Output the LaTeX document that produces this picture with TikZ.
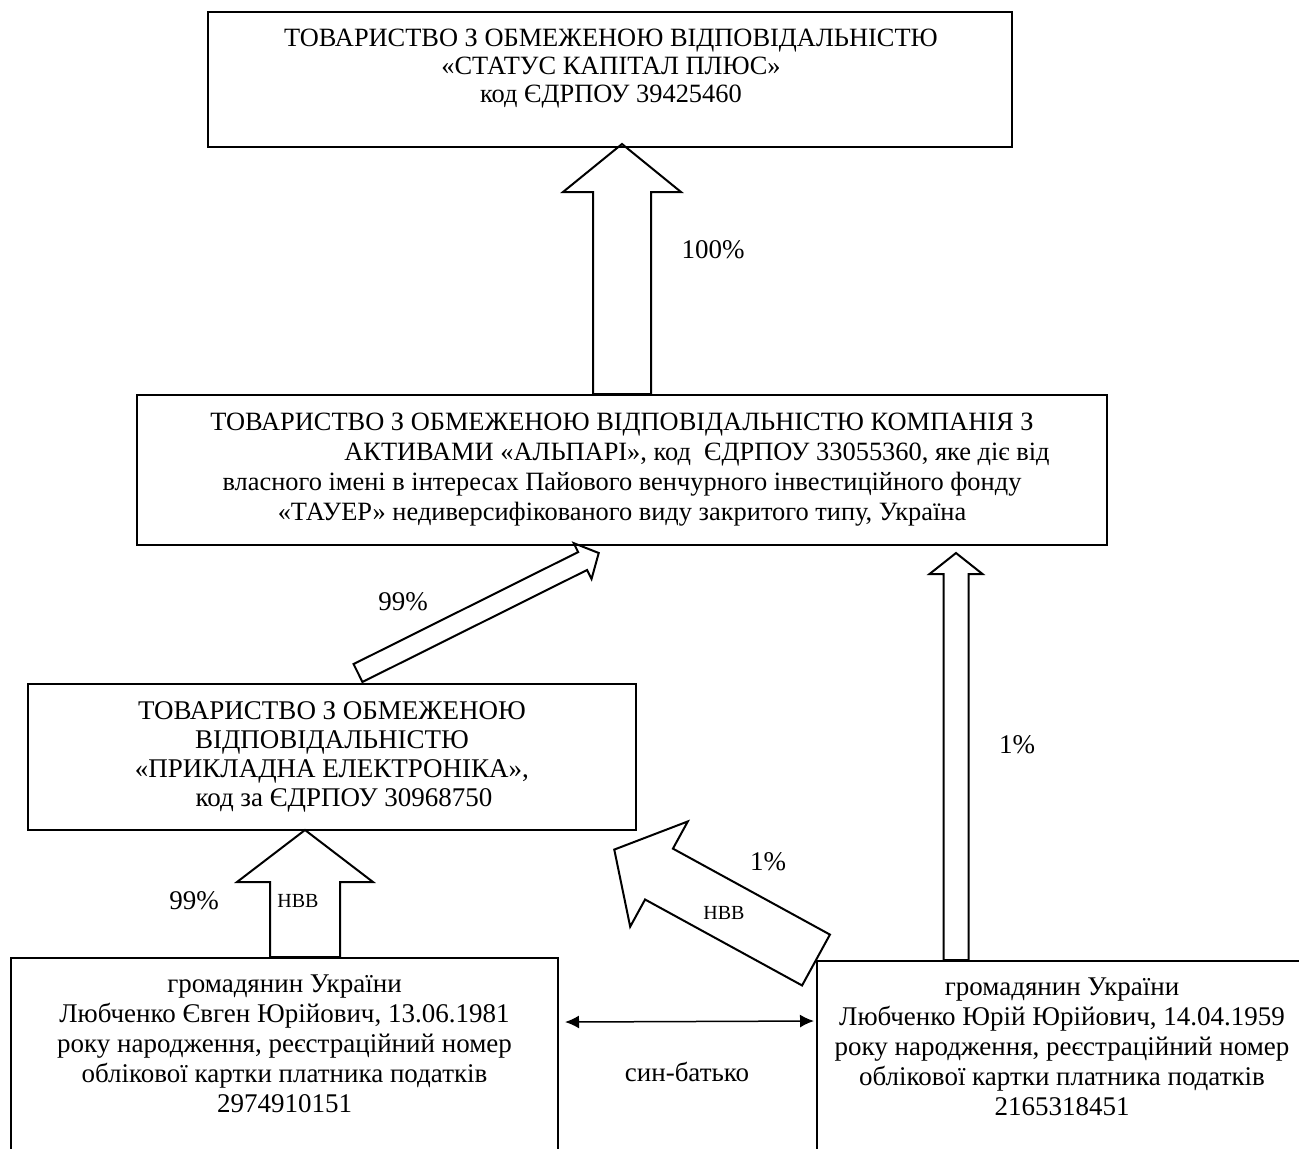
\documentclass[tikz,border=0pt]{standalone}
\usepackage{fontspec}
\setmainfont{Liberation Serif}
\usetikzlibrary{calc,arrows.meta}

\tikzset{
  orgbox/.style={draw, line width=1pt, align=center, inner sep=0pt},
  txt/.style={align=center, inner sep=0pt},
  blk/.style={draw, line width=1pt, line join=miter},
  share/.style={inner sep=0pt},
  small/.style={inner sep=0pt, font=\fontsize{10}{12}\selectfont},
  kin/.style={{Latex[length=7pt,width=6.5pt]}-{Latex[length=7pt,width=6.5pt]}, line width=0.75pt},
}

% tail, angle, length, half shaft, half head, head length
\newcommand{\blockarrow}[6]{%
  \begin{scope}[shift={#1}, rotate=#2]
    \draw[blk] (0,-#4) -- ({#3-#6},-#4) -- ({#3-#6},-#5) -- (#3,0) -- ({#3-#6},#5) -- ({#3-#6},#4) -- (0,#4) -- cycle;
  \end{scope}}

\begin{document}
\begin{tikzpicture}[x=0.5pt, y=-0.5pt, font=\fontsize{13.5}{15}\selectfont]
    \fill[white] (0,0) rectangle (1299,1148);
    \useasboundingbox (0,0) rectangle (1299,1148);
    \clip (0,0) rectangle (1299,1148);

    % Companies
    \node[orgbox, minimum width=402pt, minimum height=67.5pt] (status) at (610,79.5) {};
    \node[txt, font=\fontsize{13.2}{14}\selectfont] (statustxt) at (611,69) {ТОВАРИСТВО З ОБМЕЖЕНОЮ ВІДПОВІДАЛЬНІСТЮ\\«СТАТУС КАПІТАЛ ПЛЮС»\\код ЄДРПОУ 39425460};
    \node[orgbox, minimum width=485pt, minimum height=75pt, font=\fontsize{13.2}{15}\selectfont] (alpari) at (622,470) {ТОВАРИСТВО З ОБМЕЖЕНОЮ ВІДПОВІДАЛЬНІСТЮ КОМПАНІЯ З\\\hspace*{75pt}АКТИВАМИ «АЛЬПАРІ», код\ \ ЄДРПОУ 33055360, яке діє від\\власного імені в інтересах Пайового венчурного інвестиційного фонду\\«ТАУЕР» недиверсифікованого виду закритого типу, Україна};
    \node[orgbox, minimum width=304pt, minimum height=73pt, font=\fontsize{13.5}{14.5}\selectfont] (prykl) at (332,757) {ТОВАРИСТВО З ОБМЕЖЕНОЮ\\ВІДПОВІДАЛЬНІСТЮ\\«ПРИКЛАДНА ЕЛЕКТРОНІКА»,\\\hspace*{12pt}код за ЄДРПОУ 30968750};

    % Persons (boxes run past the page)
    \node[orgbox, anchor=north, minimum width=273.5pt, inner sep=8.5pt, text depth=140pt] (evgen) at (284.5,957) {громадянин України\\Любченко Євген Юрійович, 13.06.1981\\року народження, реєстраційний номер\\облікової картки платника податків\\2974910151};
    \node[orgbox, anchor=north, minimum width=245pt, inner sep=8.5pt, text depth=140pt] (yurii) at (1062,960) {громадянин України\\Любченко Юрій Юрійович, 14.04.1959\\року народження, реєстраційний номер\\облікової картки платника податків\\2165318451};

    % Ownership arrows
    \blockarrow{(alpari.north)}{90}{250}{29}{59}{48} % 100%
    \blockarrow{($(prykl.north)+(26,-10)$)}{26.5}{269}{10}{20}{18} % 99%
    \blockarrow{(yurii.north west)}{151.3}{230}{29}{60}{51} % 1% via НВВ
    \blockarrow{($(evgen.north)+(20.5,0)$)}{90}{127}{35}{68}{52} % 99% via НВВ
    \blockarrow{($(yurii.north west)+(140,0)$)}{90}{407}{12.5}{26.5}{21} % 1%

    \draw[kin] ($(evgen.north east)+(6,65)$) -- ($(yurii.north west)+(-2,61)$);

    % Labels
    \node[share] (p100) at (713,250) {100\%};
    \node[share] (p99a) at (403,602) {99\%};
    \node[share] (p1a) at (1017,745) {1\%};
    \node[share] (p1b) at (768,862) {1\%};
    \node[share] (p99b) at (194,901) {99\%};
    \node[small] (nvva) at (724,913) {НВВ};
    \node[small] (nvvb) at (298,901) {НВВ};
    \node[share] (kinlbl) at (687,1072) {син-батько};
\end{tikzpicture}
\end{document}
